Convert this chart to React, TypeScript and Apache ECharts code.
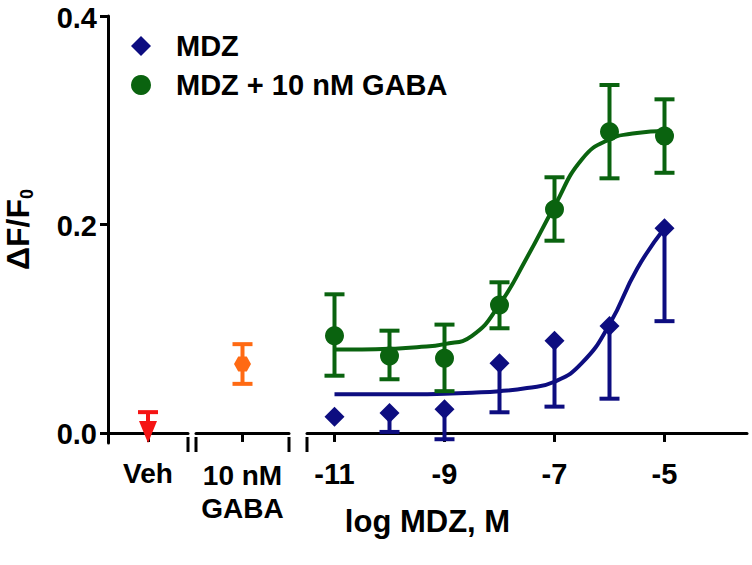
import React, { useEffect, useRef } from 'react';
import * as echarts from 'echarts';

// ---------- data ----------
const yTicks = [0, 0.2, 0.4];
const logTicks = [-11, -9, -7, -5];
const groupLabels = ['Veh', '10 nM\nGABA'];

const vehMean = [0.001];
const vehHigh = [0.02];

const gabaMean = [0.066];
const gabaLow = [0.047];
const gabaHigh = [0.085];

const logDose = [-11, -10, -9, -8, -7, -6, -5];
const mdzMean = [0.0156, 0.019, 0.0227, 0.0667, 0.0883, 0.1024, 0.196];
const mdzLow = [0.0156, 0.001, -0.006, 0.0198, 0.0252, 0.0328, 0.107];
const mixMean = [0.0931, 0.0737, 0.0715, 0.1225, 0.214, 0.2883, 0.2842];
const mixLow = [0.0548, 0.0514, 0.04, 0.1002, 0.184, 0.2437, 0.249];
const mixHigh = [0.1327, 0.0979, 0.1037, 0.1442, 0.2447, 0.333, 0.3193];

// fitted curves, every half log unit
const fitLog = [-11, -10.5, -10, -9.5, -9, -8.5, -8, -7.5, -7, -6.5, -6, -5.5, -5];
const mdzFit = [0.037, 0.037, 0.037, 0.037, 0.0375, 0.0385, 0.04, 0.043, 0.049, 0.067, 0.104, 0.157, 0.196];
const mixFit = [0.08, 0.08, 0.0805, 0.082, 0.085, 0.093, 0.123, 0.168, 0.217, 0.262, 0.281, 0.287, 0.289];

// ---------- styles ----------
const NAVY = '#0D0D80';
const GREEN = '#0A630F';
const RED = '#F51414';
const ORANGE = '#FF6A13';
const FONT = '"Liberation Sans", Arial, sans-serif';
const HEX = 'path://M0,5 L2.9,0 L8.7,0 L11.6,5 L8.7,10 L2.9,10 Z';

const G_TOP = 15;
const G_H = 428;
const G1 = { left: 108, width: 80 };
const G2 = { left: 196, width: 93 };
const G3 = { left: 307, width: 440 };
const AXIS_Y = G_TOP + G_H;
const Y_MIN = -0.0096;
const Y_MAX = 0.4;

const errRender = (color: string) => (params: any, api: any) => {
  const x = api.value(0);
  const lo = api.value(1);
  const hi = api.value(2);
  const pLo = api.coord([x, lo]);
  const pHi = api.coord([x, hi]);
  const half = 10;
  const st = { stroke: color, lineWidth: 4 };
  const children: any[] = [
    { type: 'line', shape: { x1: pLo[0], y1: pLo[1], x2: pHi[0], y2: pHi[1] }, style: st },
  ];
  if (api.value(3)) {
    children.push({ type: 'line', shape: { x1: pLo[0] - half, y1: pLo[1], x2: pLo[0] + half, y2: pLo[1] }, style: st });
  }
  if (api.value(4)) {
    children.push({ type: 'line', shape: { x1: pHi[0] - half, y1: pHi[1], x2: pHi[0] + half, y2: pHi[1] }, style: st });
  }
  return { type: 'group', children };
};

const axisLineStyle = { show: true, lineStyle: { color: '#000', width: 3 } };
const tickStyle = { show: true, length: 9, lineStyle: { color: '#000', width: 3 } };
const xLabelBase = { fontFamily: FONT, fontWeight: 'bold', fontSize: 29, color: '#000', margin: 16 };

export default function App() {
  const ref = useRef<HTMLDivElement>(null);
  useEffect(() => {
    if (!ref.current) return;
    const chart = echarts.init(ref.current, undefined, { renderer: 'svg' });

    const yAxisBase = (show: boolean, gridIndex: number) => ({
      type: 'value',
      gridIndex,
      min: Y_MIN,
      max: Y_MAX,
      show,
      splitLine: { show: false },
      axisLine: axisLineStyle,
      axisTick: { ...tickStyle, length: 8, customValues: yTicks },
      axisLabel: {
        customValues: yTicks,
        formatter: (v: number) => '{v|' + v.toFixed(1) + '}',
        margin: 11,
        rich: {
          v: {
            fontFamily: FONT,
            fontWeight: 'bold',
            fontSize: 29,
            lineHeight: 26,
            color: '#000',
            padding: [3, 0, 0, 0],
          },
        },
      },
    });

    const errData = (xs: number[], lows: number[], highs: number[], means: number[]) =>
      xs.map((x, i) => [x, lows[i], highs[i], lows[i] < means[i] ? 1 : 0, highs[i] > means[i] ? 1 : 0]);

    const option: any = {
      animation: false,
      grid: [
        { left: G1.left, width: G1.width, top: G_TOP, height: G_H },
        { left: G2.left, width: G2.width, top: G_TOP, height: G_H },
        { left: G3.left, width: G3.width, top: G_TOP, height: G_H },
      ],
      xAxis: [
        {
          type: 'value', gridIndex: 0, min: 0, max: 2,
          splitLine: { show: false },
          axisLine: axisLineStyle,
          axisTick: { ...tickStyle, customValues: [1] },
          axisLabel: { ...xLabelBase, fontSize: 28, customValues: [1], formatter: () => groupLabels[0] },
        },
        {
          type: 'value', gridIndex: 1, min: 0, max: 2,
          splitLine: { show: false },
          axisLine: axisLineStyle,
          axisTick: { ...tickStyle, customValues: [1] },
          axisLabel: { ...xLabelBase, fontSize: 28, lineHeight: 33, customValues: [1], formatter: () => groupLabels[1] },
        },
        {
          type: 'value', gridIndex: 2, min: -11.5, max: -3.5,
          splitLine: { show: false },
          axisLine: axisLineStyle,
          axisTick: { ...tickStyle, customValues: logTicks },
          axisLabel: { ...xLabelBase, customValues: logTicks, formatter: (v: number) => String(v) },
        },
      ],
      yAxis: [
        {
          ...yAxisBase(true, 0),
          name: '{a|ΔF/F}{b|0}',
          nameLocation: 'middle',
          nameRotate: 90,
          nameGap: 72,
          nameTextStyle: {
            rich: {
              a: { fontFamily: FONT, fontWeight: 'bold', fontSize: 32, lineHeight: 32, verticalAlign: 'top', color: '#000' },
              b: { fontFamily: FONT, fontWeight: 'bold', fontSize: 18, lineHeight: 34, verticalAlign: 'bottom', color: '#000' },
            },
          },
        },
        yAxisBase(false, 1),
        yAxisBase(false, 2),
      ],
      legend: {
        orient: 'vertical',
        left: 126,
        top: 26,
        itemWidth: 20,
        itemHeight: 20,
        itemGap: 9,
        textStyle: { fontFamily: FONT, fontWeight: 'bold', fontSize: 29, color: '#000', lineHeight: 30, padding: [0, 0, 0, 20] },
        data: [
          { name: 'MDZ', icon: 'diamond' },
          { name: 'MDZ + 10 nM GABA', icon: 'circle' },
        ],
      },
      graphic: [
        ...[G1.left + G1.width, G2.left, G2.left + G2.width, G3.left].map((x) => ({
          type: 'line',
          shape: { x1: x, y1: AXIS_Y - 6, x2: x, y2: AXIS_Y + 9 },
          style: { stroke: '#000', lineWidth: 3 },
        })),
        {
          type: 'text',
          x: (G1.left + G3.left + G3.width) / 2,
          y: 521,
          style: {
            text: 'log MDZ, M',
            fontFamily: FONT,
            fontWeight: 'bold',
            fontSize: 31,
            fill: '#000',
            textAlign: 'center',
            textVerticalAlign: 'middle',
          },
        },
      ],
      series: [
        // Veh
        {
          type: 'custom', name: 'vehErr', xAxisIndex: 0, yAxisIndex: 0, clip: false,
          renderItem: errRender(RED),
          data: errData([1], vehMean, vehHigh, vehMean),
          z: 3,
        },
        {
          type: 'scatter', name: 'Veh', xAxisIndex: 0, yAxisIndex: 0,
          symbol: 'triangle', symbolRotate: 180, symbolSize: [18, 22],
          itemStyle: { color: RED, opacity: 1 },
          data: vehMean.map((v) => [1, v]),
          z: 4,
        },
        // 10 nM GABA
        {
          type: 'custom', name: 'gabaErr', xAxisIndex: 1, yAxisIndex: 1, clip: false,
          renderItem: errRender(ORANGE),
          data: errData([1], gabaLow, gabaHigh, gabaMean),
          z: 3,
        },
        {
          type: 'scatter', name: '10 nM GABA', xAxisIndex: 1, yAxisIndex: 1,
          symbol: HEX, symbolSize: [17, 15],
          itemStyle: { color: ORANGE, opacity: 1 },
          data: gabaMean.map((v) => [1, v]),
          z: 4,
        },
        // fitted curves
        {
          type: 'line', name: 'mdzFit', xAxisIndex: 2, yAxisIndex: 2,
          data: fitLog.map((x, i) => [x, mdzFit[i]]),
          smooth: true, showSymbol: false, symbol: 'none',
          lineStyle: { color: NAVY, width: 4 },
          z: 2,
        },
        {
          type: 'line', name: 'mixFit', xAxisIndex: 2, yAxisIndex: 2,
          data: fitLog.map((x, i) => [x, mixFit[i]]),
          smooth: true, showSymbol: false, symbol: 'none',
          lineStyle: { color: GREEN, width: 4 },
          z: 2,
        },
        // error bars
        {
          type: 'custom', name: 'mdzErr', xAxisIndex: 2, yAxisIndex: 2, clip: false,
          renderItem: errRender(NAVY),
          data: errData(logDose, mdzLow, mdzMean, mdzMean),
          z: 3,
        },
        {
          type: 'custom', name: 'mixErr', xAxisIndex: 2, yAxisIndex: 2, clip: false,
          renderItem: errRender(GREEN),
          data: errData(logDose, mixLow, mixHigh, mixMean),
          z: 3,
        },
        // points
        {
          type: 'scatter', name: 'MDZ', xAxisIndex: 2, yAxisIndex: 2,
          symbol: 'diamond', symbolSize: 20,
          itemStyle: { color: NAVY, opacity: 1 },
          data: logDose.map((x, i) => [x, mdzMean[i]]),
          z: 4,
        },
        {
          type: 'scatter', name: 'MDZ + 10 nM GABA', xAxisIndex: 2, yAxisIndex: 2,
          symbol: 'circle', symbolSize: 19,
          itemStyle: { color: GREEN, opacity: 1 },
          data: logDose.map((x, i) => [x, mixMean[i]]),
          z: 4,
        },
      ],
    };

    chart.setOption(option);
    return () => chart.dispose();
  }, []);

  return <div ref={ref} style={{ width: 752, height: 565, position: 'absolute', left: 0, top: 0, background: '#fff' }} />;
}
